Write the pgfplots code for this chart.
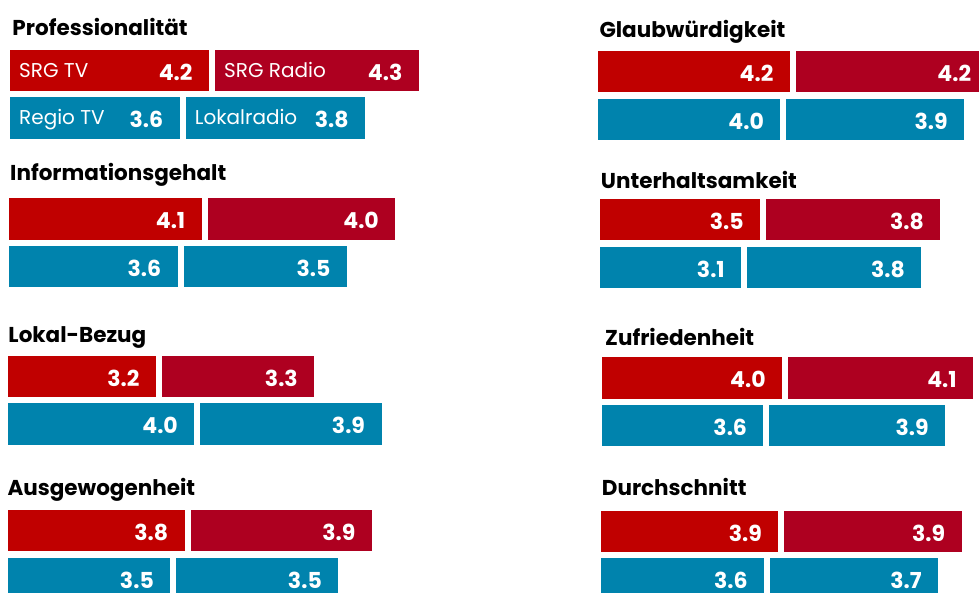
\documentclass[border=0pt]{standalone}
\usepackage{fontspec}
\setmainfont{Poppins}
\usepackage{pgfplots}
\pgfplotsset{compat=1.18}
\definecolor{srgtv}{HTML}{C00000}
\definecolor{srgradio}{HTML}{AE0020}
\definecolor{regio}{HTML}{0083AD}
\newcommand\valfont{\fontsize{22}{26}\selectfont\bfseries}
\newcommand\namefont{\fontsize{20}{24}\selectfont}
\newcommand\titlefont{\fontsize{21.5}{26}\selectfont\bfseries}
\pgfplotsset{
  rowax/.style={hide axis, scale only axis, xbar stacked, bar width=1,
    x=#1pt, y=47.3pt, y dir=reverse, xmin=0, xmax=9, ymin=-0.5, ymax=0.5,
    enlargelimits=false, clip=false, anchor=north west,
    point meta=explicit symbolic, nodes near coords,
    every node near coord/.append style={anchor=base east,
      xshift={(\pgfplotspointmeta)*#1pt/2-16.5pt},
      yshift=-9.8pt, text=white, font=\valfont, inner sep=0pt}},
  nameax/.style={hide axis, scale only axis, x=#1pt, y=47.3pt, y dir=reverse,
    xmin=0, xmax=9, ymin=-0.5, ymax=0.5, clip=false, anchor=north west},
  seg/.style={draw=white, line width=6pt, fill=#1},
}
\tikzset{
  ttl/.style={anchor=base west, inner sep=0pt, font=\titlefont, text=black},
  nm/.style={anchor=base west, inner sep=0pt, xshift=12pt, yshift=-7pt, text=white, font=\namefont},
}
\begin{document}
\begin{tikzpicture}
\path[use as bounding box] (0,0) rectangle (979pt,-592pt);
% ---------- Professionalitaet
\node[ttl] at (12.3pt,-35pt) {Professionalität};
\begin{axis}[rowax=48.8, at={(7pt,-47pt)}]
\addplot[seg=srgtv] coordinates {(4.2,0) [4.2]};
\addplot[seg=srgradio] coordinates {(4.3,0) [4.3]};
\end{axis}
\begin{axis}[nameax=48.8, at={(7pt,-47pt)}]
\node[nm] at (axis cs:0,0) {SRG TV};
\node[nm] at (axis cs:4.2,0) {SRG Radio};
\end{axis}
\begin{axis}[rowax=48.8, at={(7pt,-94.3pt)}]
\addplot[seg=regio] coordinates {(3.6,0) [3.6]};
\addplot[seg=regio] coordinates {(3.8,0) [3.8]};
\end{axis}
\begin{axis}[nameax=48.8, at={(7pt,-94.3pt)}]
\node[nm] at (axis cs:0,0) {Regio TV};
\node[nm] at (axis cs:3.6,0) {Lokalradio};
\end{axis}
% ---------- Glaubwuerdigkeit
\node[ttl] at (599.3pt,-37pt) {Glaubwürdigkeit};
\begin{axis}[rowax=47.1, at={(595pt,-48pt)}]
\addplot[seg=srgtv] coordinates {(4.2,0) [4.2]};
\addplot[seg=srgradio] coordinates {(4.2,0) [4.2]};
\end{axis}
\begin{axis}[rowax=47.1, at={(595pt,-96pt)}]
\addplot[seg=regio] coordinates {(4.0,0) [4.0]};
\addplot[seg=regio] coordinates {(3.9,0) [3.9]};
\end{axis}
% ---------- Informationsgehalt
\node[ttl] at (10pt,-180.7pt) {Informationsgehalt};
\begin{axis}[rowax=48.4, at={(6.3pt,-195.3pt)}]
\addplot[seg=srgtv] coordinates {(4.1,0) [4.1]};
\addplot[seg=srgradio] coordinates {(4.0,0) [4.0]};
\end{axis}
\begin{axis}[rowax=48.4, at={(6.3pt,-243pt)}]
\addplot[seg=regio] coordinates {(3.6,0) [3.6]};
\addplot[seg=regio] coordinates {(3.5,0) [3.5]};
\end{axis}
% ---------- Unterhaltsamkeit
\node[ttl] at (600.7pt,-188.3pt) {Unterhaltsamkeit};
\begin{axis}[rowax=47.4, at={(597.3pt,-195.7pt)}]
\addplot[seg=srgtv] coordinates {(3.5,0) [3.5]};
\addplot[seg=srgradio] coordinates {(3.8,0) [3.8]};
\end{axis}
\begin{axis}[rowax=47.4, at={(597.3pt,-243.7pt)}]
\addplot[seg=regio] coordinates {(3.1,0) [3.1]};
\addplot[seg=regio] coordinates {(3.8,0) [3.8]};
\end{axis}
% ---------- Lokal-Bezug
\node[ttl] at (8.3pt,-342pt) {Lokal-Bezug};
\begin{axis}[rowax=48, at={(5.3pt,-352.7pt)}]
\addplot[seg=srgtv] coordinates {(3.2,0) [3.2]};
\addplot[seg=srgradio] coordinates {(3.3,0) [3.3]};
\end{axis}
\begin{axis}[rowax=48, at={(5.3pt,-400.3pt)}]
\addplot[seg=regio] coordinates {(4.0,0) [4.0]};
\addplot[seg=regio] coordinates {(3.9,0) [3.9]};
\end{axis}
% ---------- Zufriedenheit
\node[ttl] at (605pt,-345.5pt) {Zufriedenheit};
\begin{axis}[rowax=46.6, at={(598.7pt,-354.3pt)}]
\addplot[seg=srgtv] coordinates {(4.0,0) [4.0]};
\addplot[seg=srgradio] coordinates {(4.1,0) [4.1]};
\end{axis}
\begin{axis}[rowax=46.6, at={(598.7pt,-402pt)}]
\addplot[seg=regio] coordinates {(3.6,0) [3.6]};
\addplot[seg=regio] coordinates {(3.9,0) [3.9]};
\end{axis}
% ---------- Ausgewogenheit
\node[ttl] at (7.3pt,-495pt) {Ausgewogenheit};
\begin{axis}[rowax=48, at={(5.3pt,-507pt)}]
\addplot[seg=srgtv] coordinates {(3.8,0) [3.8]};
\addplot[seg=srgradio] coordinates {(3.9,0) [3.9]};
\end{axis}
\begin{axis}[rowax=48, at={(5.3pt,-554.7pt)}]
\addplot[seg=regio] coordinates {(3.5,0) [3.5]};
\addplot[seg=regio] coordinates {(3.5,0) [3.5]};
\end{axis}
% ---------- Durchschnitt
\node[ttl] at (601.7pt,-495.7pt) {Durchschnitt};
\begin{axis}[rowax=47, at={(598pt,-507.7pt)}]
\addplot[seg=srgtv] coordinates {(3.9,0) [3.9]};
\addplot[seg=srgradio] coordinates {(3.9,0) [3.9]};
\end{axis}
\begin{axis}[rowax=47, at={(598pt,-555.3pt)}]
\addplot[seg=regio] coordinates {(3.6,0) [3.6]};
\addplot[seg=regio] coordinates {(3.7,0) [3.7]};
\end{axis}
\end{tikzpicture}
\end{document}
